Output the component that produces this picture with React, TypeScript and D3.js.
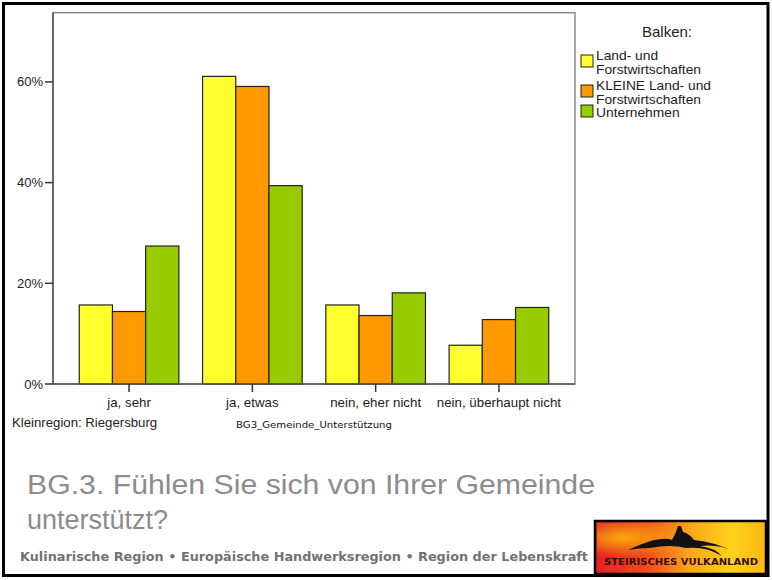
import React from "react";
import * as d3 from "d3";

const categories = ["ja, sehr", "ja, etwas", "nein, eher nicht", "nein, überhaupt nicht"];
const seriesNames = ["Land- und Forstwirtschaften", "KLEINE Land- und Forstwirtschaften", "Unternehmen"];
const legendLines = [["Land- und", "Forstwirtschaften"], ["KLEINE Land- und", "Forstwirtschaften"], ["Unternehmen"]];
const seriesColors = ["#ffff2e", "#ff9900", "#99cc00"];
const landForst = [15.7, 61.1, 15.7, 7.7];
const kleine = [14.4, 59.1, 13.6, 12.8];
const unternehmen = [27.4, 39.4, 18.1, 15.2];
const yTicks = [0, 20, 40, 60];

const W = 772;
const H = 580;
const PL = 53, PR = 575, PT = 12.7, PB = 384;

export default function App() {
  const series = [landForst, kleine, unternehmen];
  const x = d3.scaleBand<string>().domain(categories).range([PL, PR]).paddingInner(0.192).paddingOuter(0.213);
  const xi = d3.scaleBand<number>().domain([0, 1, 2]).range([0, x.bandwidth()]);
  const y = d3.scaleLinear().domain([0, 73.75]).range([PB, PT]);
  const font = "'Liberation Sans', Arial, sans-serif";
  const legendBoxes = [55, 85, 105];
  const legendBase = [60, 90, 117];

  return (
    <svg width={W} height={H} style={{ position: "absolute", left: 0, top: 0 }} xmlns="http://www.w3.org/2000/svg">
      <defs>
        <linearGradient id="logoGrad" x1="0" x2="1" y1="0" y2="0">
          <stop offset="0" stopColor="#e41e26" />
          <stop offset="0.3" stopColor="#f04a1c" />
          <stop offset="0.55" stopColor="#fba51a" />
          <stop offset="0.8" stopColor="#ffd21a" />
          <stop offset="1" stopColor="#fbb614" />
        </linearGradient>
        <radialGradient id="logoRad" cx="0.15" cy="0.3" r="0.4">
          <stop offset="0" stopColor="#ffd000" stopOpacity="0.75" />
          <stop offset="1" stopColor="#ffd000" stopOpacity="0" />
        </radialGradient>
      </defs>
      <rect x={0} y={0} width={W} height={H} fill="#fff" />
      <rect x={3.5} y={3.5} width={764.5} height={572} fill="none" stroke="#000" strokeWidth={3} />

      {/* plot frame */}
      <rect x={PL} y={PT} width={PR - PL} height={PB - PT} fill="none" stroke="#8a8a8a" strokeWidth={1.5} />

      {/* bars */}
      {categories.map((c, ci) =>
        series.map((s, si) => (
          <rect
            key={c + si}
            x={(x(c) as number) + (xi(si) as number)}
            y={y(s[ci])}
            width={xi.bandwidth()}
            height={PB - y(s[ci])}
            fill={seriesColors[si]}
            stroke="#222"
            strokeWidth={1.2}
          />
        ))
      )}

      {/* axes */}
      <line x1={PL} x2={PL} y1={PT} y2={PB} stroke="#555" strokeWidth={1.5} />
      <line x1={PL} x2={PR} y1={PB} y2={PB} stroke="#555" strokeWidth={1.5} />
      {yTicks.map((t) => (
        <g key={t}>
          <line x1={PL - 8} x2={PL} y1={y(t)} y2={y(t)} stroke="#333" strokeWidth={1.5} />
          <text x={PL - 10} y={y(t) + 4.5} textAnchor="end" fontFamily={font} fontSize={13} fill="#222">
            {t}%
          </text>
        </g>
      ))}
      {categories.map((c) => {
        const cx = (x(c) as number) + x.bandwidth() / 2;
        return (
          <g key={c}>
            <line x1={cx} x2={cx} y1={PB} y2={PB + 8} stroke="#333" strokeWidth={1.5} />
            <text x={cx} y={407} textAnchor="middle" fontFamily={font} fontSize={13.3} fill="#222">
              {c}
            </text>
          </g>
        );
      })}
      <text x={12} y={427} fontFamily={font} fontSize={13.2} fill="#222">Kleinregion: Riegersburg</text>
      <text x={236} y={428} fontFamily="'DejaVu Sans', sans-serif" fontSize={9} fill="#111" textLength={156} lengthAdjust="spacingAndGlyphs">
        BG3_Gemeinde_Unterstützung
      </text>

      {/* legend */}
      <text x={642} y={37} fontFamily={font} fontSize={15} fill="#222">Balken:</text>
      {legendLines.map((lines, i) => (
        <g key={seriesNames[i]}>
          <rect x={581} y={legendBoxes[i]} width={12} height={12} fill={seriesColors[i]} stroke="#222" strokeWidth={1} />
          {lines.map((ln, j) => (
            <g key={j} transform={`translate(596, ${legendBase[i] + j * 13.5}) scale(1.15, 1)`}>
              <text x={0} y={0} fontFamily={font} fontSize={12} fill="#222">
                {ln}
              </text>
            </g>
          ))}
        </g>
      ))}

      {/* title */}
      <text x={27} y={494} fontFamily={font} fontSize={27} fill="#8c8c8c" textLength={568} lengthAdjust="spacingAndGlyphs">
        BG.3. Fühlen Sie sich von Ihrer Gemeinde
      </text>
      <text x={27} y={529} fontFamily={font} fontSize={27} fill="#8c8c8c">
        unterstützt?
      </text>

      {/* footer */}
      <text x={20} y={561} fontFamily="'DejaVu Sans', sans-serif" fontWeight="bold" fontSize={12} fill="#727272" textLength={568} lengthAdjust="spacingAndGlyphs">
        Kulinarische Region • Europäische Handwerksregion • Region der Lebenskraft
      </text>

      {/* logo */}
      <rect x={595} y={521} width={171} height={53} fill="url(#logoGrad)" stroke="#000" strokeWidth={2.5} />
      <rect x={597} y={523} width={167} height={49} fill="url(#logoRad)" />
      <path d="M628,550 Q660,535 672,540 L676,532 L678,526 L681,526 L683,532 Q690,534 694,540 Q715,542 735,552 Q720,544 700,546 Q715,548 722,556 Q706,546 686,548 Q670,544 650,548 Q640,548 628,550 Z" fill="#111" />
      <text x={604} y={565} fontFamily="'DejaVu Sans', sans-serif" fontWeight="bold" fontSize={8} fill="#3a1005" textLength={154} lengthAdjust="spacingAndGlyphs">
        STEIRISCHES VULKANLAND
      </text>
    </svg>
  );
}
